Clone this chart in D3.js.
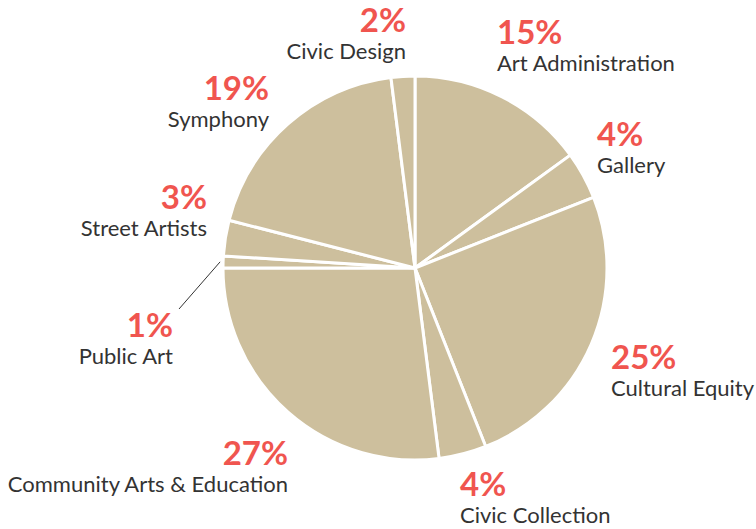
<!DOCTYPE html>
<html>
<head>
<meta charset="utf-8">
<script src="https://cdn.jsdelivr.net/npm/d3@7"></script>
<style>
  html, body { margin: 0; padding: 0; background: #fff; }
  svg { display: block; }
</style>
</head>
<body>
<svg id="chart" width="756" height="529"></svg>
<script>
// Budget share by program, clockwise from 12 o'clock
const categories = [
  "Art Administration", "Gallery", "Cultural Equity", "Civic Collection",
  "Community Arts & Education", "Public Art", "Street Artists", "Symphony", "Civic Design"
];
const shares = [15, 4, 25, 4, 27, 1, 3, 19, 2];
const percentLabels = ["15%", "4%", "25%", "4%", "27%", "1%", "3%", "19%", "2%"];

// Label placement: anchor point [x, y of percent baseline] and text alignment
const labelPos = [
  { x: 497, y: 44, anchor: "start" },
  { x: 597, y: 146, anchor: "start" },
  { x: 611, y: 369, anchor: "start" },
  { x: 460, y: 496, anchor: "start" },
  { x: 288, y: 465, anchor: "end" },
  { x: 173, y: 337, anchor: "end" },
  { x: 207, y: 209, anchor: "end" },
  { x: 269, y: 100, anchor: "end" },
  { x: 406, y: 32, anchor: "end" }
];

const data = categories.map((c, i) => ({ name: c, value: shares[i], pct: percentLabels[i], pos: labelPos[i] }));

const svg = d3.select("#chart");
const cx = 415, cy = 268, radius = 192;

const pie = d3.pie().value(d => d.value).sort(null);
const arc = d3.arc().innerRadius(0).outerRadius(radius);

const g = svg.append("g").attr("transform", `translate(${cx},${cy})`);

const arcs = pie(data);

g.selectAll("path.slice")
  .data(arcs)
  .enter().append("path")
  .attr("class", "slice")
  .attr("d", arc)
  .attr("fill", "#cdbf9d")
  .attr("stroke", "#ffffff")
  .attr("stroke-width", 3)
  .attr("stroke-linejoin", "round");

// Leader line for the thin Public Art slice
const pa = arcs[5];
const mid = (pa.startAngle + pa.endAngle) / 2;
const edge = [Math.sin(mid) * (radius + 3), -Math.cos(mid) * (radius + 3)];
g.append("line")
  .attr("x1", edge[0]).attr("y1", edge[1])
  .attr("x2", 179 - cx).attr("y2", 309 - cy)
  .attr("stroke", "#333")
  .attr("stroke-width", 1);

const labels = svg.selectAll("g.label")
  .data(data)
  .enter().append("g")
  .attr("class", "label");

labels.append("text")
  .attr("x", d => d.pos.x)
  .attr("y", d => d.pos.y)
  .attr("text-anchor", d => d.pos.anchor)
  .attr("font-family", "Lato, 'Noto Sans', sans-serif")
  .attr("font-weight", 700)
  .attr("font-size", 33)
  .attr("fill", "#f0554f")
  .text(d => d.pct);

labels.append("text")
  .attr("x", d => d.pos.x)
  .attr("y", d => d.pos.y + 27)
  .attr("text-anchor", d => d.pos.anchor)
  .attr("font-family", "Lato, 'Noto Sans', sans-serif")
  .attr("font-weight", 400)
  .attr("font-size", 22)
  .attr("fill", "#333333")
  .text(d => d.name);
</script>
</body>
</html>
